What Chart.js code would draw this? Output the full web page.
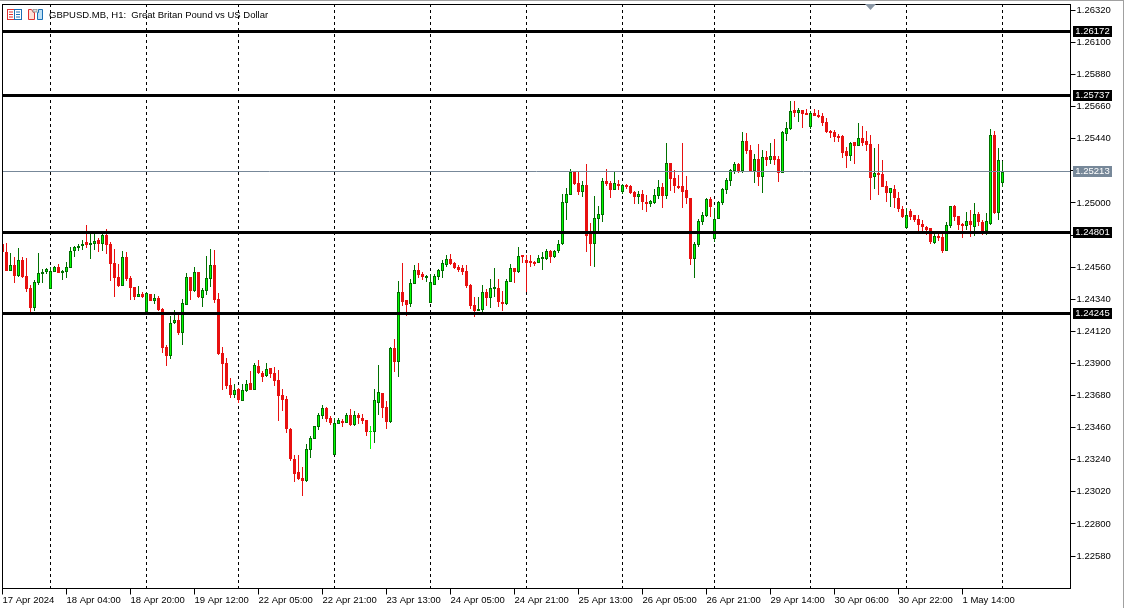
<!DOCTYPE html>
<html>
<head>
<meta charset="utf-8">
<title>GBPUSD.MB, H1</title>
<script src="https://cdn.jsdelivr.net/npm/chart.js@4"></script>
<style>
  html, body { margin: 0; padding: 0; background: #fff; }
  #wrap { position: relative; width: 1124px; height: 608px; overflow: hidden; }
  canvas { position: absolute; left: 0; top: 0; }
  #topbar { position: absolute; left: 0; top: 0; width: 1124px; height: 1px; background: #a0a0a0; }
  #rightbar { position: absolute; right: 0; top: 0; width: 1px; height: 608px; background: #a0a0a0; }
  #header { position: absolute; left: 49px; top: 9px; font: 9.5px "Liberation Sans", sans-serif; color: #000; white-space: pre; }
  svg { position: absolute; top: 9px; }
</style>
</head>
<body>
<div id="wrap">
  <canvas id="chart" width="1124" height="608"></canvas>
  <div id="topbar"></div>
  <div id="rightbar"></div>
  <svg style="left:7px" width="16" height="12">
    <rect x="0.5" y="0.5" width="7" height="10" fill="#fff" stroke="#e03030"/>
    <path d="M2 3h4M2 5.5h4M2 8h4" stroke="#e03030"/>
    <rect x="7.5" y="0.5" width="7" height="10" fill="#fff" stroke="#1a6fb5"/>
    <path d="M9 3h4M9 5.5h4M9 8h4" stroke="#1a6fb5"/>
  </svg>
  <svg style="left:28px" width="16" height="12">
    <path d="M0.5 0.5h3l2 3h1v7h-6z" fill="#fde0d8" stroke="#e03030"/>
    <rect x="5" y="0.5" width="4" height="2.5" fill="#ddd" stroke="#888" stroke-width="0.7"/>
    <path d="M9.5 3.5h1v-3h4v10h-5z" fill="#bfe0f5" stroke="#1a6fb5"/>
  </svg>
  <div id="header">GBPUSD.MB, H1:  Great Britan Pound vs US Dollar</div>
</div>
<script>
const opens = [
  1.24719,1.24665,1.24537,1.24575,1.24500,1.24610,1.24500,1.24418,1.24283,1.24452,
  1.24514,1.24530,1.24411,1.24527,1.24562,1.24530,1.24527,1.24555,1.24671,1.24692,
  1.24706,1.24733,1.24713,1.24719,1.24747,1.24719,1.24781,1.24719,1.24589,1.24493,
  1.24431,1.24630,1.24486,1.24425,1.24356,1.24377,1.24253,1.24377,1.24329,1.24349,
  1.24274,1.24013,1.23952,1.24178,1.24198,1.24109,1.24301,1.24493,1.24397,1.24527,
  1.24349,1.24397,1.24479,1.24575,1.24342,1.23972,1.23904,1.23753,1.23684,1.23725,
  1.23643,1.23712,1.23766,1.23719,1.23883,1.23835,1.23815,1.23870,1.23835,1.23787,
  1.23684,1.23657,1.23451,1.23246,1.23157,1.23116,1.23095,1.23308,1.23383,1.23465,
  1.23541,1.23595,1.23527,1.23273,1.23486,1.23506,1.23493,1.23547,1.23479,1.23547,
  1.23527,1.23513,1.23433,1.23431,1.23630,1.23698,1.23602,1.23499,1.24007,1.23911,
  1.24391,1.24336,1.24308,1.24445,1.24541,1.24514,1.24493,1.24315,1.24439,1.24493,
  1.24535,1.24576,1.24617,1.24589,1.24562,1.24555,1.24535,1.24439,1.24301,1.24260,
  1.24267,1.24391,1.24349,1.24411,1.24418,1.24322,1.24308,1.24459,1.24555,1.24528,
  1.24644,1.24610,1.24603,1.24596,1.24589,1.24617,1.24617,1.24671,1.24630,1.24671,
  1.24719,1.25001,1.25055,1.25213,1.25138,1.25076,1.25124,1.24788,1.24719,1.24891,
  1.24918,1.25151,1.25138,1.25090,1.25131,1.25076,1.25124,1.25117,1.25076,1.25042,
  1.25062,1.25007,1.24994,1.25001,1.25048,1.25110,1.25048,1.25275,1.25172,1.25117,
  1.25117,1.25090,1.25035,1.24617,1.24713,1.24870,1.24911,1.25028,1.24754,1.24891,
  1.25001,1.25090,1.25151,1.25220,1.25268,1.25220,1.25426,1.25364,1.25220,1.25302,
  1.25179,1.25316,1.25295,1.25323,1.25302,1.25206,1.25473,1.25508,1.25638,1.25617,
  1.25638,1.25617,1.25521,1.25617,1.25604,1.25597,1.25556,1.25494,1.25487,1.25460,
  1.25460,1.25357,1.25323,1.25419,1.25391,1.25446,1.25425,1.25405,1.25179,1.25206,
  1.25199,1.25117,1.25069,1.25096,1.25035,1.24959,1.24829,1.24946,1.24918,1.24891,
  1.24856,1.24836,1.24829,1.24726,1.24774,1.24767,1.24671,1.24843,1.24980,1.24911,
  1.24856,1.24843,1.24877,1.24836,1.24925,1.24870,1.24808,1.24856,1.25467,1.24932,
  1.25137
];
const highs = [
  1.24724,1.24729,1.24660,1.24633,1.24692,1.24633,1.24623,1.24438,1.24473,1.24658,
  1.24550,1.24555,1.24559,1.24566,1.24580,1.24541,1.24596,1.24699,1.24706,1.24719,
  1.24747,1.24850,1.24793,1.24793,1.24761,1.24793,1.24822,1.24733,1.24685,1.24582,
  1.24671,1.24665,1.24500,1.24425,1.24431,1.24390,1.24390,1.24377,1.24377,1.24363,
  1.24281,1.24027,1.24226,1.24267,1.24233,1.24342,1.24521,1.24493,1.24562,1.24527,
  1.24418,1.24637,1.24685,1.24678,1.24383,1.24013,1.23938,1.23801,1.23760,1.23732,
  1.23760,1.23787,1.23849,1.23904,1.23924,1.23849,1.23904,1.23870,1.23876,1.23856,
  1.23726,1.23678,1.23458,1.23273,1.23273,1.23191,1.23349,1.23403,1.23472,1.23561,
  1.23616,1.23602,1.23541,1.23527,1.23527,1.23520,1.23561,1.23589,1.23575,1.23561,
  1.23554,1.23513,1.23472,1.23726,1.23890,1.23698,1.23643,1.24014,1.24068,1.24466,
  1.24589,1.24336,1.24480,1.24576,1.24589,1.24528,1.24507,1.24514,1.24514,1.24548,
  1.24610,1.24644,1.24651,1.24596,1.24576,1.24576,1.24576,1.24445,1.24356,1.24356,
  1.24439,1.24411,1.24480,1.24555,1.24480,1.24397,1.24480,1.24582,1.24555,1.24699,
  1.24644,1.24644,1.24644,1.24603,1.24644,1.24665,1.24685,1.24678,1.24678,1.24747,
  1.25062,1.25103,1.25234,1.25220,1.25213,1.25151,1.25268,1.24863,1.25048,1.24980,
  1.25172,1.25234,1.25151,1.25220,1.25158,1.25131,1.25131,1.25124,1.25083,1.25083,
  1.25090,1.25055,1.25021,1.25096,1.25158,1.25138,1.25412,1.25275,1.25227,1.25192,
  1.25412,1.25186,1.25035,1.24733,1.24891,1.24939,1.25035,1.25042,1.24966,1.25014,
  1.25103,1.25172,1.25234,1.25282,1.25275,1.25487,1.25480,1.25398,1.25336,1.25405,
  1.25364,1.25357,1.25412,1.25439,1.25323,1.25494,1.25556,1.25700,1.25700,1.25652,
  1.25638,1.25645,1.25631,1.25645,1.25638,1.25617,1.25583,1.25501,1.25501,1.25473,
  1.25467,1.25384,1.25419,1.25419,1.25549,1.25528,1.25494,1.25467,1.25377,1.25405,
  1.25295,1.25151,1.25103,1.25124,1.25076,1.24980,1.24966,1.24959,1.24918,1.24918,
  1.24884,1.24843,1.24829,1.24788,1.24788,1.24788,1.24870,1.24980,1.24987,1.24911,
  1.24863,1.24939,1.24952,1.25000,1.24939,1.24884,1.24932,1.25508,1.25494,1.25377,
  1.25288
];
const lows = [
  1.24667,1.24537,1.24537,1.24454,1.24495,1.24489,1.24390,1.24253,1.24262,1.24438,
  1.24452,1.24514,1.24411,1.24527,1.24521,1.24473,1.24486,1.24555,1.24630,1.24671,
  1.24678,1.24692,1.24617,1.24678,1.24665,1.24671,1.24651,1.24466,1.24356,1.24425,
  1.24431,1.24466,1.24336,1.24336,1.24356,1.24349,1.24253,1.24329,1.24308,1.24260,
  1.23972,1.23883,1.23931,1.24171,1.24096,1.24027,1.24301,1.24336,1.24390,1.24349,
  1.24287,1.24370,1.24425,1.24315,1.23958,1.23719,1.23725,1.23664,1.23664,1.23629,
  1.23643,1.23705,1.23719,1.23719,1.23828,1.23774,1.23808,1.23801,1.23746,1.23506,
  1.23575,1.23424,1.23232,1.23088,1.23102,1.22992,1.23088,1.23253,1.23383,1.23445,
  1.23520,1.23499,1.23479,1.23273,1.23486,1.23465,1.23493,1.23472,1.23472,1.23486,
  1.23486,1.23403,1.23314,1.23356,1.23547,1.23527,1.23451,1.23493,1.23842,1.23808,
  1.24295,1.24226,1.24288,1.24445,1.24487,1.24473,1.24459,1.24315,1.24439,1.24473,
  1.24487,1.24562,1.24576,1.24548,1.24528,1.24507,1.24418,1.24274,1.24219,1.24260,
  1.24254,1.24295,1.24281,1.24356,1.24288,1.24260,1.24301,1.24459,1.24452,1.24521,
  1.24589,1.24390,1.24562,1.24569,1.24589,1.24541,1.24610,1.24589,1.24624,1.24658,
  1.24713,1.24884,1.25055,1.25124,1.25055,1.25042,1.24665,1.24569,1.24562,1.24809,
  1.24870,1.25117,1.25035,1.25090,1.25090,1.25062,1.25096,1.25062,1.24994,1.24994,
  1.24953,1.24939,1.24973,1.24994,1.25028,1.24966,1.25028,1.25083,1.25069,1.25096,
  1.24966,1.24994,1.24576,1.24486,1.24699,1.24850,1.24905,1.24905,1.24733,1.24891,
  1.24987,1.25062,1.25117,1.25199,1.25206,1.25206,1.25336,1.25213,1.25138,1.25117,
  1.25069,1.25254,1.25268,1.25261,1.25144,1.25206,1.25425,1.25501,1.25590,1.25556,
  1.25515,1.25604,1.25508,1.25597,1.25583,1.25528,1.25480,1.25446,1.25419,1.25419,
  1.25309,1.25240,1.25288,1.25268,1.25391,1.25391,1.25357,1.25021,1.25096,1.25055,
  1.25110,1.25007,1.24973,1.24966,1.24939,1.24898,1.24822,1.24884,1.24870,1.24808,
  1.24808,1.24781,1.24719,1.24719,1.24740,1.24658,1.24671,1.24829,1.24877,1.24815,
  1.24760,1.24815,1.24767,1.24774,1.24843,1.24781,1.24781,1.24850,1.24925,1.24884,
  1.25110
];
const closes = [
  1.24667,1.24537,1.24575,1.24500,1.24610,1.24493,1.24411,1.24283,1.24459,1.24521,
  1.24527,1.24548,1.24534,1.24562,1.24521,1.24534,1.24562,1.24671,1.24699,1.24706,
  1.24719,1.24713,1.24726,1.24740,1.24719,1.24781,1.24713,1.24582,1.24486,1.24431,
  1.24630,1.24479,1.24418,1.24356,1.24377,1.24356,1.24383,1.24329,1.24349,1.24267,
  1.24006,1.23952,1.24178,1.24198,1.24109,1.24315,1.24493,1.24397,1.24527,1.24356,
  1.24404,1.24486,1.24575,1.24336,1.23965,1.23897,1.23746,1.23684,1.23719,1.23650,
  1.23719,1.23760,1.23719,1.23890,1.23835,1.23808,1.23863,1.23829,1.23780,1.23678,
  1.23650,1.23451,1.23246,1.23143,1.23109,1.23095,1.23314,1.23390,1.23472,1.23547,
  1.23595,1.23520,1.23493,1.23493,1.23513,1.23493,1.23547,1.23479,1.23547,1.23527,
  1.23506,1.23431,1.23433,1.23650,1.23705,1.23595,1.23499,1.24007,1.23911,1.24391,
  1.24322,1.24301,1.24452,1.24541,1.24507,1.24493,1.24500,1.24459,1.24500,1.24541,
  1.24589,1.24617,1.24582,1.24555,1.24541,1.24528,1.24432,1.24295,1.24260,1.24274,
  1.24391,1.24349,1.24418,1.24425,1.24322,1.24308,1.24466,1.24555,1.24528,1.24637,
  1.24630,1.24589,1.24589,1.24589,1.24624,1.24630,1.24671,1.24630,1.24671,1.24719,
  1.25007,1.25062,1.25213,1.25131,1.25076,1.25124,1.24774,1.24719,1.24898,1.24925,
  1.25151,1.25131,1.25090,1.25138,1.25124,1.25124,1.25110,1.25069,1.25042,1.25062,
  1.25007,1.24994,1.25014,1.25055,1.25110,1.25048,1.25275,1.25165,1.25117,1.25103,
  1.25076,1.25035,1.24617,1.24719,1.24877,1.24918,1.25028,1.24973,1.24891,1.25007,
  1.25096,1.25158,1.25227,1.25268,1.25220,1.25426,1.25357,1.25220,1.25302,1.25179,
  1.25316,1.25295,1.25323,1.25295,1.25206,1.25487,1.25515,1.25631,1.25617,1.25638,
  1.25610,1.25610,1.25617,1.25597,1.25590,1.25549,1.25487,1.25480,1.25453,1.25453,
  1.25343,1.25323,1.25412,1.25391,1.25446,1.25412,1.25398,1.25172,1.25206,1.25192,
  1.25110,1.25069,1.25103,1.25035,1.24959,1.24904,1.24918,1.24904,1.24884,1.24850,
  1.24836,1.24815,1.24733,1.24774,1.24760,1.24671,1.24850,1.24980,1.24904,1.24850,
  1.24850,1.24877,1.24850,1.24925,1.24870,1.24808,1.24877,1.25467,1.24932,1.25295,
  1.25213
];

const xTickIndex = [0,16,32,48,64,80,96,112,128,144,160,176,192,208,224,240];
const xTickLabels = ["17 Apr 2024","18 Apr 04:00","18 Apr 20:00","19 Apr 12:00","22 Apr 05:00","22 Apr 21:00","23 Apr 13:00","24 Apr 05:00","24 Apr 21:00","25 Apr 13:00","26 Apr 05:00","26 Apr 21:00","29 Apr 14:00","30 Apr 06:00","30 Apr 22:00","1 May 14:00"];
const separators = [12,36,59,83,107,131,155,178,202,226,250];
const yTicks = [1.2258,1.2280,1.2302,1.2324,1.2346,1.2368,1.2390,1.2412,1.2434,1.2456,1.2478,1.2500,1.2522,1.2544,1.2566,1.2588,1.2610,1.2632];
const levels = [1.26172,1.25737,1.24801,1.24245];
const bid = 1.25213;

const xMax = 267;
const yMin = 1.223576;
const yMax = 1.263603;

const GREEN = "#00ff00", DARK = "#007000", RED = "#e81010";

function candleColor(i, fill) {
  if (opens[i] === closes[i]) return GREEN;
  if (closes[i] > opens[i]) return fill ? GREEN : DARK;
  return RED;
}

const wicks = opens.map((o, i) => ({ x: i, y: [lows[i], highs[i]] }));
const bodies = opens.map((o, i) => ({ x: i, y: [o, closes[i]] }));

function hLine(v, color, width) {
  return { type: "line", data: [{ x: 0, y: v }, { x: xMax, y: v }], borderColor: color, borderWidth: width, pointRadius: 0, order: 1 };
}

const datasets = [
  ...separators.map(k => ({
    type: "line", data: [{ x: k, y: yMax }, { x: k, y: yMin }],
    borderColor: "#000", borderWidth: 1, borderDash: [3, 3], borderDashOffset: 0.5, pointRadius: 0, order: 5
  })),
  hLine(bid, "#778899", 1),
  {
    data: wicks, grouped: false, barThickness: 1, maxBarThickness: 1, minBarLength: 1, order: 3, borderWidth: 0, inflateAmount: 0,
    backgroundColor: c => candleColor(c.dataIndex, false)
  },
  {
    data: bodies, grouped: false, barThickness: 3, maxBarThickness: 3, minBarLength: 1, order: 2, borderWidth: 1, borderSkipped: false, inflateAmount: 0,
    backgroundColor: c => candleColor(c.dataIndex, true),
    borderColor: c => candleColor(c.dataIndex, false)
  },
  ...levels.map(v => hLine(v, "#000", 3))
];

// the first and last tick labels must not push the plot area in
function noMargins(s) {
  s.paddingTop = 0;
  s.paddingBottom = 0;
  s.paddingLeft = 0;
  s.paddingRight = 0;
}

// terminal charts sit on whole pixels, so snap the elements the scales placed
const snap = {
  id: "snap",
  beforeDatasetsDraw(chart) {
    chart.getSortedVisibleDatasetMetas().forEach(meta => {
      if (meta.type === "line") {
        meta.data.forEach(p => { p.y = Math.floor(p.y) + 0.5; });
        return;
      }
      const isBody = meta.controller.getDataset().barThickness === 3;
      meta.data.forEach((bar, i) => {
        const top = Math.round(Math.min(bar.y, bar.base));
        let bottom = Math.round(Math.max(bar.y, bar.base));
        const least = isBody && opens[i] !== closes[i] ? 2 : 1;
        if (bottom - top < least) bottom = top + least;
        bar.y = top;
        bar.base = bottom;
      });
    });
  }
};

// frame round the plot, price tags on the axis, the little shift marker
const overlay = {
  id: "overlay",
  afterDraw(chart) {
    const { ctx, chartArea: a, scales } = chart;
    ctx.save();
    ctx.strokeStyle = "#000";
    ctx.lineWidth = 1;
    ctx.strokeRect(a.left, a.top, a.right - a.left, a.bottom - a.top);

    ctx.fillStyle = "#8a97a5";
    ctx.beginPath();
    ctx.moveTo(865, 4);
    ctx.lineTo(876, 4);
    ctx.lineTo(870.5, 10);
    ctx.fill();

    ctx.font = '9.5px "Liberation Sans", sans-serif';
    ctx.textBaseline = "middle";
    ctx.textAlign = "center";
    const tag = (v, bg, fg) => {
      const y = Math.floor(scales.y.getPixelForValue(v));
      ctx.fillStyle = bg;
      ctx.fillRect(1073, y - 5, 39, 11);
      ctx.fillStyle = fg;
      ctx.fillText(v.toFixed(5), 1092.5, y + 0.5);
    };
    levels.forEach(v => tag(v, "#000", "#fff"));
    tag(bid, "#778899", "#fff");
    ctx.restore();
  }
};

new Chart(document.getElementById("chart"), {
  type: "bar",
  data: { datasets },
  plugins: [snap, overlay],
  options: {
    responsive: false,
    animation: false,
    layout: { padding: { left: 2.5, top: 4.5, right: 0, bottom: 0 } },
    plugins: { legend: { display: false }, tooltip: { enabled: false }, title: { display: false } },
    scales: {
      x: {
        type: "linear",
        offset: false,
        min: 0,
        max: xMax,
        grid: { offset: false, drawOnChartArea: false, drawTicks: true, tickLength: 6, color: "#000" },
        border: { display: true, color: "#000" },
        afterBuildTicks: s => { s.ticks = xTickIndex.map(value => ({ value })); },
        afterFit: s => { s.height = 19.5; noMargins(s); },
        ticks: {
          autoSkip: false, maxRotation: 0, minRotation: 0, align: "start", padding: 0, color: "#000",
          font: { family: "Liberation Sans", size: 9.5 },
          callback: v => xTickLabels[xTickIndex.indexOf(v)]
        }
      },
      y: {
        position: "right",
        min: yMin,
        max: yMax,
        grid: { drawOnChartArea: false, drawTicks: true, tickLength: 5, color: "#000" },
        border: { display: true, color: "#000" },
        afterBuildTicks: s => { s.ticks = yTicks.map(value => ({ value })); },
        afterFit: s => { s.width = 53.5; noMargins(s); },
        ticks: {
          autoSkip: false, padding: 1, crossAlign: "near", color: "#000",
          font: { family: "Liberation Sans", size: 9.5 },
          callback: v => v.toFixed(5)
        }
      }
    }
  }
});
// debug-free build
</script>
</body>
</html>
